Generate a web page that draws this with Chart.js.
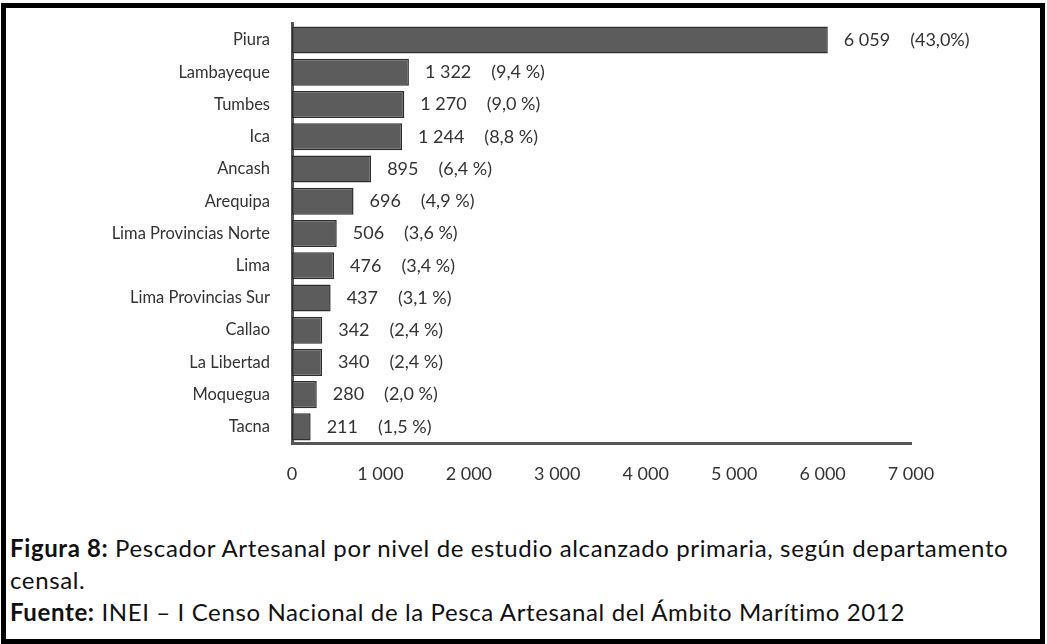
<!DOCTYPE html>
<html>
<head>
<meta charset="utf-8">
<script src="https://cdn.jsdelivr.net/npm/chart.js@4.4.1/dist/chart.umd.min.js"></script>
<style>
  html, body { margin: 0; padding: 0; background: #fff; }
  #frame {
    position: absolute; left: 1px; top: 3px; width: 1034px; height: 631px;
    border: 5px solid #000;
  }
  #wrap { position: absolute; left: 0; top: 0; width: 1047px; height: 500px; }
  #caption {
    position: absolute; left: 10px; top: 532px; width: 1030px; white-space: nowrap;
    font-family: Lato, "Open Sans", sans-serif; font-size: 24px; letter-spacing: 0.62px;
    line-height: 32px; color: #111;
  }
  #caption b { font-weight: 700; }
</style>
</head>
<body>
<div id="frame"></div>
<div id="wrap"><canvas id="chart"></canvas></div>
<div id="caption">
  <b>Figura 8:</b> Pescador Artesanal por nivel de estudio alcanzado primaria, según departamento<br>
  censal.<br>
  <b>Fuente:</b> INEI – I Censo Nacional de la Pesca Artesanal del Ámbito Marítimo 2012
</div>
<script>
const departamentos = ['Piura', 'Lambayeque', 'Tumbes', 'Ica', 'Ancash', 'Arequipa',
  'Lima Provincias Norte', 'Lima', 'Lima Provincias Sur', 'Callao', 'La Libertad', 'Moquegua', 'Tacna'];
const pescadores = [6059, 1322, 1270, 1244, 895, 696, 506, 476, 437, 342, 340, 280, 211];
const porcentajes = ['(43,0%)', '(9,4 %)', '(9,0 %)', '(8,8 %)', '(6,4 %)', '(4,9 %)',
  '(3,6 %)', '(3,4 %)', '(3,1 %)', '(2,4 %)', '(2,4 %)', '(2,0 %)', '(1,5 %)'];
const xTicks = [0, 1000, 2000, 3000, 4000, 5000, 6000, 7000];

function fmt(n) {
  return String(n).replace(/\B(?=(\d{3})+(?!\d))/g, '\u00a0');
}

// value labels to the right of each bar
const barLabels = {
  id: 'barLabels',
  afterDatasetsDraw(chart) {
    const ctx = chart.ctx;
    const meta = chart.getDatasetMeta(0);
    ctx.save();
    ctx.font = '18px Lato, "Open Sans", sans-serif';
    ctx.fillStyle = '#333';
    ctx.textBaseline = 'middle';
    meta.data.forEach((bar, i) => {
      const num = fmt(pescadores[i]);
      const x = bar.x + 16;
      ctx.fillText(num, x, bar.y);
      ctx.fillText(porcentajes[i], x + ctx.measureText(num).width + 20, bar.y);
    });
    ctx.restore();
  }
};

new Chart(document.getElementById('chart'), {
  type: 'bar',
  data: {
    labels: departamentos,
    datasets: [{
      data: pescadores,
      backgroundColor: '#5c5c5c',
      borderColor: '#2e2e2e',
      borderWidth: 1.5,
      borderSkipped: false,
      categoryPercentage: 1,
      barPercentage: 0.84
    }]
  },
  options: {
    indexAxis: 'y',
    responsive: true,
    maintainAspectRatio: false,
    animation: false,
    layout: { padding: { left: 0, right: 136, top: 20, bottom: 0 } },
    plugins: { legend: { display: false }, tooltip: { enabled: false } },
    scales: {
      x: {
        min: 0, max: 7000,
        afterBuildTicks: s => { s.ticks = xTicks.map(v => ({ value: v })); },
        afterFit: s => { s.height = 57; },
        grid: { display: false },
        border: { display: true, color: '#555', width: 3 },
        ticks: {
          padding: 12,
          color: '#333',
          font: { family: 'Lato, "Open Sans", sans-serif', size: 18 },
          callback: v => fmt(v)
        }
      },
      y: {
        afterFit: s => { s.width = 292; },
        grid: { display: false },
        border: { display: true, color: '#555', width: 3 },
        ticks: {
          padding: 14,
          color: '#333',
          font: { family: 'Lato, "Open Sans", sans-serif', size: 16.5 }
        }
      }
    }
  },
  plugins: [barLabels]
});
</script>
</body>
</html>
